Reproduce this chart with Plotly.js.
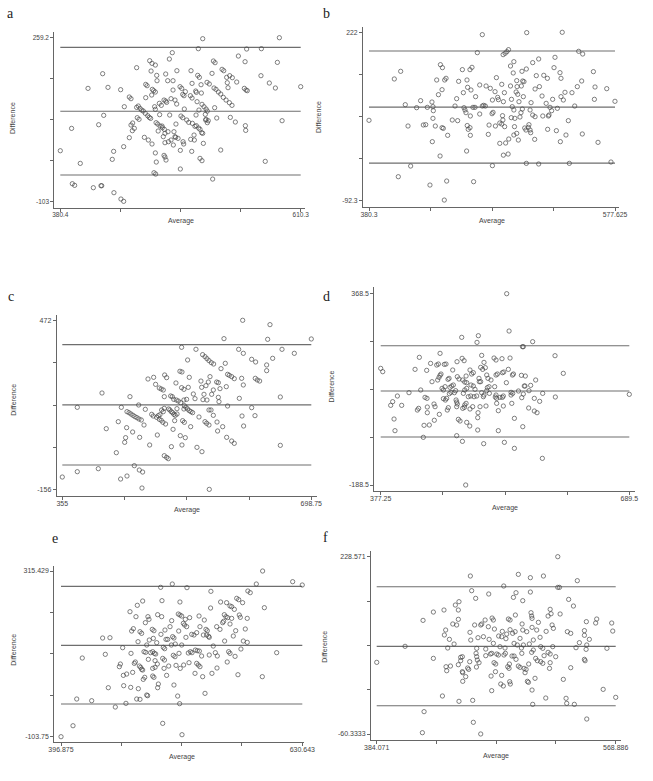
<!DOCTYPE html>
<html>
<head>
<meta charset="utf-8">
<script src="https://cdn.plot.ly/plotly-3.0.1.min.js"></script>
<style>html,body{margin:0;padding:0;background:#fff;}#chart{width:653px;height:781px;}</style>
</head>
<body>
<div id="chart"></div>
<script>
// ---------------- DATA ----------------
const panelLetters = ["a", "b", "c", "d", "e", "f"];
const xAxisTitle = "Average";
const yAxisTitle = "Difference";

// axis extremes (min, max) and their labels
const xRangeA = [380.4, 610.3],   xLabelsA = ["380.4", "610.3"];
const yRangeA = [-103, 259.2],    yLabelsA = ["-103", "259.2"];
const xRangeB = [380.3, 577.625], xLabelsB = ["380.3", "577.625"];
const yRangeB = [-92.3, 222],     yLabelsB = ["-92.3", "222"];
const xRangeC = [355, 698.75],    xLabelsC = ["355", "698.75"];
const yRangeC = [-156, 472],      yLabelsC = ["-156", "472"];
const xRangeD = [377.25, 689.5],  xLabelsD = ["377.25", "689.5"];
const yRangeD = [-188.5, 368.5],  yLabelsD = ["-188.5", "368.5"];
const xRangeE = [396.875, 630.643], xLabelsE = ["396.875", "630.643"];
const yRangeE = [-103.75, 315.429], yLabelsE = ["-103.75", "315.429"];
const xRangeF = [384.071, 568.886], xLabelsF = ["384.071", "568.886"];
const yRangeF = [-60.3333, 228.571], yLabelsF = ["-60.3333", "228.571"];

// lower limit, mean difference, upper limit
const limitsA = [-44.1, 96.6, 237.8];
const limitsB = [-22.1, 82.4, 187.1];
const limitsC = [-64.5, 158.3, 381.8];
const limitsD = [-48.8, 85.2, 217.1];
const limitsE = [-21.1, 127.4, 276.6];
const limitsF = [-14.2, 82.5, 179.7];

// (average, difference) pairs
const pointsA = [[380.4,9.6],[391.2,58.9],[391.9,-63.3],[394.1,-66.9],[399.5,-18.4],[406.9,147.3],[412,-72.1],[419.3,-67.7],[420,-67.7],[417.1,67],[420.9,179.7],[421.9,87.7],[426,149.5],[430.1,-9.5],[431.4,8.2],[431.7,-83.1],[438.1,144.4],[438.4,-97.1],[441,-102.2],[441,18.5],[441.6,106.8],[446.4,38.4],[446.4,128.2],[448,124.5],[448,66.3],[449.6,70.8],[451.2,59],[449.3,53.8],[453.4,193],[453.4,105.3],[455,108.3],[456.6,103.1],[458.2,99.4],[459.8,97.2],[454,82.5],[455.7,78.9],[460.8,39.1],[462.1,126.7],[462.1,156.1],[463.4,153.2],[461.7,92.1],[464,86.9],[465.5,83.2],[466.8,81],[464.6,33.2],[468.1,24.4],[465.9,208.4],[468.1,202.5],[471.3,198.8],[467.2,185.6],[468.4,145.1],[469.7,142.2],[471.3,139.2],[467.8,132.6],[470,-39],[471.6,-41.9],[470.6,106.8],[471.3,101],[472.2,-15.4],[472.6,176],[472.9,164.2],[472,71.5],[473.5,68.5],[475.8,64.1],[478,60.4],[479.9,56.8],[474,53.1],[475.1,114.2],[477,109.8],[475.4,89.2],[479.6,121.5],[481.2,119.3],[482.1,116.4],[481.2,179],[479.6,-0.7],[480.5,-4.4],[481.5,-11],[478.9,40.6],[480.5,48],[480.5,27.3],[483.1,164.2],[484.7,212.1],[483.4,51.6],[483.8,29.5],[486.3,33.2],[485,88.4],[486.3,124.5],[487.5,226.1],[488.2,164.2],[489.1,51.6],[490.1,40.6],[490.7,39.1],[488.2,143.6],[490.1,121.5],[491.7,112.7],[491,68.5],[491.9,186.3],[494.9,151],[496.5,147.3],[497.5,134],[495.2,10.4],[495.2,-30.8],[495.8,86.2],[497.5,82.5],[497.8,29.5],[498.4,24.4],[499,101.7],[498.7,131.1],[500,140],[501.3,77.4],[503.2,72.2],[504.8,131.1],[506.4,126],[505.4,186.3],[506.1,8.2],[506.4,158.3],[506.7,70.1],[508.3,44.2],[508.6,33.2],[509.2,63.4],[509.9,141.4],[510.5,138.5],[510.2,88.4],[511.2,117.9],[511.8,176],[513.4,171.6],[512.4,234.9],[513,99.4],[512.7,59.7],[514,56.8],[515.6,49.4],[516.6,48],[514,-7.3],[515.9,-12.4],[515,155.4],[515.3,137],[515.9,112],[517.8,106.8],[519.8,101.7],[521,97.2],[516.6,257],[517.2,25.8],[519.1,89.9],[519.4,77.4],[521.9,75.9],[521,71.5],[520.7,160.6],[522.9,157],[525.5,180.4],[526.1,-53],[526.8,207.7],[528.4,204],[527.4,148.1],[529.3,145.1],[531.6,139.2],[533.8,134.8],[536.3,127.4],[538.9,121.5],[542.1,115.6],[544.6,109.8],[528,104.6],[530,81.8],[533.8,11.1],[535.1,189.3],[536.7,186.3],[539.5,171.6],[540.1,159.8],[540.8,148.8],[542.4,175.3],[544.9,170.9],[543,83.2],[547.8,73],[549.1,161.3],[550.7,218.7],[556.4,147.3],[558,143.6],[559.2,142.2],[557.1,206.2],[557.4,64.9],[557.7,54.5],[558.6,234.2],[572.7,234.9],[572.3,175.3],[576.4,-13.9],[580.3,159.1],[586.1,148.1],[588,204.7],[589.9,259.2],[592.5,75.9],[610.3,151],[471.3,4.7],[477.7,64.1],[488.5,22.2],[493,36.9],[505.1,34.7],[510.5,64.9],[519.8,78.9]];

const pointsB = [[380.3,57.7],[400.6,134.9],[405.7,149.2],[403.8,-47.5],[409.4,86.9],[411.6,47.1],[413.7,-27.6],[418.5,81.3],[421.7,94.4],[423.9,49],[425.8,49.6],[427.1,81.9],[429.2,-63.1],[430.8,91.9],[431.6,83.2],[431.9,75.7],[431.6,61.4],[431.1,17.9],[433.5,47.1],[434.6,133],[436,105.6],[437.3,-8.9],[437.6,161.6],[439.2,156],[438.9,114.9],[438.9,44],[439.9,42.7],[441,133],[442.1,136.1],[440.7,-91.1],[442.6,-55.6],[443.4,29.7],[447.1,58.3],[449.3,84.4],[450.6,98.1],[451.4,57.1],[452.2,130.5],[455.2,152.3],[456,109.3],[456.5,81.3],[457.3,77],[458.1,72],[458.6,0.4],[458.9,133],[459.4,119.3],[459.1,48],[459.9,40.9],[461.3,44],[461.3,152.3],[462.9,156.6],[462.1,114.3],[461.6,65.8],[461.6,29.7],[463.7,81.9],[465.3,81.9],[464.2,-56.8],[465.8,101.9],[467.2,184],[469.1,123.7],[469.1,69.5],[471.2,217.6],[471.2,84.4],[472.3,85.7],[473.6,84.4],[474.2,121.8],[476,31.5],[476.6,48.9],[477.6,117.4],[479,70.1],[479.8,72.6],[479.3,-26.9],[479.3,95.6],[481.4,111.2],[481.7,47.1],[482.5,137.4],[483.5,100.6],[484.1,96.3],[485.2,14.7],[485.2,52.7],[486.8,50.8],[486.8,124.9],[487.4,66.4],[487.7,58.3],[487.9,180.3],[489.5,182.8],[490.9,185.9],[492.2,189.6],[488.1,92.5],[488.1,-7.3],[488.9,109.3],[489.9,15.4],[489.1,45.9],[491.9,-5.2],[492.4,22.8],[493.8,121.8],[493.8,159.1],[494.4,62.7],[494.6,96.9],[496,146.1],[496.5,167.2],[495.2,83.2],[496.5,77],[496.5,30.3],[497,45.9],[497.3,61.4],[498.3,110.6],[498.8,131.8],[498.8,33.4],[499.1,120.6],[499.6,106.2],[500.1,20.9],[500.6,92.5],[501.4,63.9],[502.2,72],[502.5,121.8],[503,149.2],[503.6,131.1],[504.1,101.9],[504.6,129.9],[503.3,78.8],[505.2,43.4],[506.2,39.6],[508.1,44.6],[506.8,221.4],[506.5,153.5],[506.5,-22.6],[508.6,49.6],[509.5,39.6],[510,34.6],[509.5,77],[510.3,90.7],[511.6,165.4],[511.6,67.6],[513.5,64.5],[513.5,116.2],[513.2,22.2],[514.5,141.1],[516.4,172.2],[516.4,-23.8],[517,120.6],[519.1,103.1],[519.7,65.8],[520.5,141.7],[522.4,89.4],[523.4,136.1],[523.6,40.9],[524.2,65.8],[524.7,67.6],[525.5,81.9],[526.8,75.7],[527.6,96.9],[528.7,156],[529.5,175.3],[530.6,38.4],[531.4,80.1],[533.5,146.7],[534.3,136.1],[534.3,101.9],[533.8,17.9],[535.3,222],[537.5,110],[536.2,95.6],[538.3,30.3],[540.2,57.1],[541,-22.6],[543.1,109.3],[545.3,84.4],[547.4,120.6],[548.5,186.5],[551.7,181.5],[550.9,131.1],[551.4,32.2],[560.3,148.6],[561.6,119.9],[561.1,96.9],[564,16.6],[571,116.8],[574.4,-20.1],[577.6,93.2]];

const pointsC = [[355,-109],[375.7,149.4],[375.7,-89.2],[404.7,-78.1],[409.8,202.5],[415.7,70.2],[429.6,-18.8],[432.3,96.2],[435.5,-116.4],[444.3,-105.3],[436.5,149.4],[441.1,19.6],[442.4,36.9],[443.8,74],[444.3,133.3],[447.1,129.6],[449.8,124.6],[452.6,119.7],[455.3,114.8],[458.1,111],[460.9,106.1],[464.1,102.4],[467.8,83.8],[448.4,188.9],[452.1,57.9],[454.4,-67],[461.3,-83],[465.9,-90.5],[460.4,158],[461.8,38.1],[465,-149.8],[469.6,142],[473.3,254.4],[475.6,9.7],[478.4,123.4],[480.6,117.2],[481.1,260.6],[483.8,234.6],[485.2,112.3],[487.5,118.5],[488.9,104.9],[486.2,46.8],[488.9,221],[491.6,217.3],[494.4,213.6],[489.8,122.2],[492.1,139.5],[494.4,133.3],[495.8,145.6],[491.6,101.1],[493.9,93.7],[497.6,87.5],[495.8,188.9],[496.3,269.3],[499,259.4],[495.8,-29.9],[499,-36.1],[501.3,-41],[501.8,143.2],[503.6,139.5],[505.4,133.3],[507.3,129.6],[509.1,123.4],[510.9,119.7],[504.6,191.4],[506.9,188.9],[508.8,179],[505.6,3.5],[507.9,67.8],[510.1,99.9],[513.4,124.6],[511.9,239.6],[512.4,176.5],[515.2,172.8],[518.4,166.7],[513.3,144.4],[517.4,283],[520.2,280.4],[517.9,44.3],[520.2,9.7],[519.7,371.9],[519.7,222.3],[522.9,216.1],[521.1,99.9],[523.5,93.7],[522.9,143.2],[522.9,176.5],[523.5,155.5],[525.7,149.4],[528,143.2],[530.3,137],[532.6,133.3],[534.9,129.6],[524.8,36.9],[526.6,179],[528,324.9],[528.9,223.5],[530.3,260.6],[532.2,77.6],[535.9,198.8],[538.2,181.5],[539.5,364.4],[540.9,1],[543.7,113.6],[546.4,246.7],[547.4,223.5],[547.8,-15],[548.7,344.7],[552,337.3],[554.7,329.8],[557.5,322.6],[560.7,315],[563.9,310],[549.2,177.8],[550.6,197.6],[552,96.2],[554.3,90],[557.5,83.8],[553.3,229.7],[556.6,243.2],[558.9,263.1],[554.7,176.5],[557.9,-154.8],[557.5,139.5],[560.3,139.5],[561.2,197.6],[563.5,213.6],[563.5,119.7],[568.1,243.2],[570.4,240.8],[568.6,94.9],[569.4,61.6],[570.4,186.4],[571.3,170.4],[572.7,218.6],[574.1,292.8],[576.4,77.6],[578.2,404],[580,312.5],[581.4,226],[583.2,271.7],[585.5,268],[588.8,263.1],[592.4,255.7],[583.2,154.3],[581.9,38.1],[588.8,24.5],[592.4,15.8],[598.5,364.4],[604.9,349.6],[599.4,182.7],[603.1,117.2],[602.6,256.9],[604,472],[604.9,232.2],[605.3,80.1],[616.4,327.4],[621.9,317.5],[616.4,148.1],[621,118.5],[621.4,256.9],[624.2,250.7],[627.4,246.9],[637.1,306.4],[637.1,285.3],[638.5,401.5],[641.7,455.9],[645.4,331.1],[656,187.7],[656,8.4],[658.3,364.4],[675.3,349.6],[698.75,402.8]];

const pointsD = [[377.25,151.1],[379.8,141.4],[389.8,43.4],[392.3,54.1],[394,3.6],[395.2,-30.3],[398.2,70.6],[403.6,43.4],[412.8,80.3],[420.4,148.2],[423.3,29.8],[424.9,34.7],[425.8,183.2],[427.5,88.1],[430.8,-49.7],[431.7,-14.8],[432.9,66.7],[435.4,63.8],[435,145.3],[435.8,22],[435.8,38.6],[438.3,-13.8],[439.9,165.6],[441.7,112.3],[444.2,47.3],[445.5,39.5],[444.6,0],[447.6,160.8],[449.7,163.7],[448.8,117.2],[450.5,124.9],[450.9,17.2],[451.8,194.8],[451.8,130.8],[453,134.6],[454.3,92.9],[456,88.1],[458.1,97.8],[456,62.8],[458.5,58.9],[460.1,63.8],[457.2,162.7],[459.3,163.7],[460.9,29.8],[462.2,36.7],[461.8,119.1],[463.5,77.4],[465.6,81.3],[463.1,122],[464.3,95.8],[466.4,99.7],[468.5,102.6],[467.7,146.3],[469.8,80.3],[471.4,86.1],[471.9,59],[472.7,53.1],[473.5,47.3],[472.7,39.5],[473.1,170.5],[472.7,-44.9],[473.5,126.9],[475.6,120.1],[474.8,2.7],[476.9,-2.2],[479,241.4],[479.5,180.3],[482,173.5],[479.9,-61.4],[480.3,34.7],[482.4,37.6],[482.8,44.4],[484.5,49.2],[480.3,117.2],[482.8,111.3],[485.3,109.4],[481.1,78.3],[482.8,88.1],[485.3,92.9],[484.5,128.8],[485.3,-6.1],[489.1,-16.7],[487.3,68.6],[490.3,70.6],[489.4,146.3],[491.5,134.6],[493.6,138.5],[489.4,32.8],[490.7,102.6],[493.6,99.7],[495.7,90],[492.8,39.5],[494.5,68.6],[497.8,70.6],[498.2,226.8],[499.1,-28.4],[499.5,22],[499.1,7.5],[499.9,246.2],[500.7,122],[501.1,112.3],[502.8,112.3],[502,39.5],[502.8,154],[505.3,148.2],[504.1,188.9],[504.1,80.3],[506.2,68.6],[507,73.5],[507,168.5],[506.6,-68.2],[508.7,153.1],[509.5,41.5],[510.4,131.7],[512,122],[511.2,94.9],[513.3,97.8],[510.4,86.1],[513.7,78.3],[515.8,117.2],[519.6,181.2],[522.1,175.4],[520.4,97.8],[521.2,67.6],[522.9,63.8],[522.1,73.5],[522.1,131.7],[523.8,134.6],[522.9,49.2],[525,-30.3],[525,27.9],[527.1,66.7],[530.1,66.7],[531.3,70.6],[529.6,179.3],[530.1,138.5],[531.8,140.5],[531.3,41.5],[532.6,-64.3],[535.1,109.4],[535.5,368.5],[537.6,148.2],[538.5,259.8],[539.7,181.2],[541,73.5],[543.1,78.3],[541,81.3],[541.9,49.2],[542.7,131.7],[544,134.6],[545.2,5.6],[545.2,-81.8],[550.3,85.2],[554,130.8],[554.4,65.8],[555.3,214.2],[556.4,214.2],[555.7,-18.7],[557.6,99.7],[558.5,99.7],[558.9,128.8],[556.4,76.4],[563.5,86.1],[563.1,35.7],[565.6,101.6],[568.1,228.8],[570.2,63.8],[570.2,26.9],[573.6,22],[571.9,117.2],[576.9,55.1],[580.7,78.3],[580.3,-110.9],[596.2,188],[596.6,67.7],[606.6,136.6],[689.5,75.4],[484,-188.5]];

const pointsE = [[396.9,-103.75],[408.5,-76],[412.1,-8.4],[417.5,95.3],[426.6,-12.7],[437.2,145.9],[444.3,146.7],[439.8,104.6],[442.7,20.2],[449.5,-28.7],[453.4,73.4],[454.4,80.1],[456.6,121.4],[457.6,25.3],[457.3,51.4],[460.5,54.8],[459.8,-19.4],[463.7,212.5],[464.4,21],[465.3,163.6],[467,169.5],[464.7,107.1],[466.3,59],[467.9,81.8],[468.9,85.2],[469.5,199.9],[470.2,-8.4],[473.4,-9.3],[470.8,228.6],[471.5,136.6],[471.8,17.7],[472.8,75],[474.1,71.7],[475,66.6],[476,64.9],[473.4,161.9],[475,157.7],[476,239.5],[476.6,41.3],[478,46.4],[477.3,111.3],[478.9,109.6],[478.6,184.7],[479.9,1.7],[480.8,0],[481.1,199.9],[482.1,193.1],[479.9,128.2],[481.5,91.9],[482.4,140.8],[483.7,108.8],[485.3,167.8],[486.9,164.4],[485.7,111.3],[487.3,107.1],[488.6,105.4],[485.7,69.1],[488,71.7],[485.7,49.7],[486.9,46.4],[486.3,145],[488,88.6],[489.6,134.1],[490.2,80.1],[490.5,204.9],[490.5,20.2],[491.2,29.5],[493.4,274.1],[493.7,155.2],[494.7,240.4],[494.4,199.9],[495.4,94.4],[497.1,90.2],[495.4,-70],[496,122.3],[497.3,118.9],[496.7,69.1],[497.6,166.1],[498.6,142.5],[500.2,142.5],[499.2,51.4],[501.2,75],[502.5,174.6],[504.1,189.8],[503.8,128.2],[504.7,282.5],[505,149.3],[506.3,145.9],[505.7,102.1],[507.3,98.7],[506.3,27],[507.6,130.7],[508.3,76.7],[509.9,-0.9],[510.5,206.6],[512.1,204.1],[513.8,201.5],[510.9,163.6],[511.2,107.1],[511.8,-20.2],[512.1,237],[512.4,69.1],[513.8,128.2],[514.1,-98.7],[515.4,183],[515.7,77.6],[516.6,178.8],[518.6,174.6],[517.3,193.1],[517.9,147.6],[518.9,273.3],[520.2,108],[522.2,111.3],[523.8,108.8],[521.5,197.4],[520.9,83.5],[523.5,155.2],[525.7,153.5],[528.3,159.4],[526.7,56.5],[527,115.5],[528.3,81.8],[529.9,77.6],[531.5,73.4],[528.9,113.8],[530.9,112.9],[530.6,201.6],[531.5,174.6],[533.1,100.4],[534.1,48.1],[534.8,153.5],[535.7,191.4],[537.3,167.8],[538.6,164.4],[540.5,147.6],[536.4,5.9],[538,153.5],[539.9,150.2],[540.5,102.9],[541.8,221.8],[542.1,264],[543.1,56.5],[544.4,125.6],[546.4,108.8],[548.3,100.4],[547.7,174.6],[548,70],[550.9,167.8],[551.5,237],[553.5,184.7],[554.4,188.1],[555.4,138.3],[555.1,204.9],[556.7,199.9],[558.3,197.4],[557.3,235.3],[557.9,85.2],[559.3,111.3],[560.6,107.1],[560.6,227],[562.2,225.2],[560.6,181.3],[562.2,195.6],[563.8,151],[564.8,218.4],[565.5,99.5],[566.1,164.4],[567.1,246.3],[569,242.9],[568.3,53.1],[569.6,204.1],[570.6,198.2],[571.2,118.1],[572.8,235.3],[573.5,138.3],[577.3,134.9],[575.4,168.7],[577.3,195.6],[577.9,264.8],[580.2,260.6],[586.1,282.5],[591.9,48.1],[592.2,315.4],[593.9,222.6],[605.8,108.8],[621.3,288.4],[630.6,280]];

const pointsF = [[384.1,56.4],[406,82.5],[419.9,124.8],[420.7,-23.9],[419.4,-58.2],[427.9,62.9],[427.9,138.4],[434.9,1.6],[436.1,141.7],[436.4,101],[437.4,109.1],[437.7,49.3],[438.2,42.8],[439,79.8],[440.3,93.9],[441.1,50.4],[442.9,118.9],[443.9,86.3],[444.9,149.8],[447.2,141.7],[447.7,155.3],[445.9,117.3],[447.2,126.5],[447.2,52.6],[449,64.6],[447.7,-7.1],[449,59.1],[450.3,41.2],[450.6,39.6],[450.6,25.5],[450.3,65.6],[452.9,33.1],[454.4,47.2],[455.2,45],[456,57.5],[456.2,105.3],[456.5,197.1],[456.8,92.8],[457.5,173.2],[458.3,-5.5],[458.8,-41.3],[459.8,117.3],[461.4,79.3],[460.6,160.7],[460.9,71.1],[461.4,65.6],[461.9,60.2],[461.2,48.8],[462.4,96.6],[463.2,55.9],[464.5,117.3],[465.3,118.9],[464.5,-60.3],[466.6,98.2],[467.9,125.4],[470.4,114.5],[468.4,78.1],[468.4,67.3],[470.7,167.8],[471,93.9],[472,70],[473,71.1],[472.5,34.1],[473,10.3],[473.3,128.6],[474.3,125.4],[474.3,87.4],[474.8,55.9],[476.1,53.7],[475.1,110.7],[475.9,41.2],[476.9,70],[478.2,68.4],[478.4,99.3],[479.4,81.9],[480,21.1],[482,17.9],[480.7,98.2],[480.7,35.2],[481.2,106.9],[482.3,180.8],[482.5,68.4],[483.6,71.1],[483.3,79.8],[484,95],[484.6,102.5],[485.4,49.3],[486.4,46.6],[486.7,53.7],[485.9,127],[487.2,125.4],[487.2,109.6],[486.9,24.9],[487.4,21.1],[488.7,66.7],[490.3,66.7],[489.2,103.7],[491.1,106.4],[489.8,162.3],[490.3,87.4],[491.8,169.9],[491.3,133.5],[491.8,61.3],[492.8,84.7],[493.6,199.8],[493.6,50.4],[494.9,48.3],[494.9,95.5],[496,79.8],[497.5,84.7],[496.3,71.1],[496.5,118.9],[497,109.1],[497,156.9],[498,46.6],[499.6,45],[498.8,39.6],[500.1,106.4],[500.6,25.5],[501.4,23.9],[501.6,53.7],[502.1,86.3],[502.9,171],[502.9,194.4],[503.4,137.3],[503.9,131.9],[504.2,128.1],[504.2,113.4],[503.9,72.7],[505.2,76.5],[504.2,11.3],[504.7,-12],[505.2,92.8],[506.5,30.4],[507,62.9],[508.3,59.1],[507.8,109.1],[509.1,121.6],[510.4,97.2],[510.9,82],[512.5,79.3],[510.9,57.5],[512.5,54.8],[513,197.1],[513.5,67.3],[514.8,-1.7],[515.1,106.9],[516.6,131.9],[518.2,142.8],[516.6,72.7],[518.2,70],[518.2,55.9],[517.7,46.6],[518.9,135.6],[519.7,117.3],[520.7,111.8],[520.2,82],[522.5,65.6],[524.1,228.6],[524.1,178.6],[525.4,178.6],[525.9,135.2],[528.4,28.7],[530.5,-2.2],[531,-10.4],[531.5,106.4],[534.1,103.7],[532.5,159],[534.1,47.7],[536.2,148.2],[536.9,-12],[538.2,80.3],[539.2,189.5],[540.8,88.5],[544.7,108.1],[544.7,100.5],[544.7,61.3],[545.2,59.1],[546,77.6],[546.5,84.7],[546.2,122.7],[546.5,-35.9],[548.5,93.9],[553.4,120.5],[554.2,127],[559.2,12.4],[562.1,79.3],[565.8,120.5],[566.6,107.4],[568.9,-0.6]];

// ---------------- LAYOUT (pixel geometry of each panel) ----------------
const W = 653, H = 781;
const panels = [
  {pts: pointsA, lim: limitsA, xr: xRangeA, yr: yRangeA, xl: xLabelsA, yl: yLabelsA,
   g: {L: 54.3, R: 305, T: 32.3, B: 207.5, qx0: 60.3, qx1: 300.7, qyT: 37.7, qyB: 201.7,
       letter: [10.7, 14], dt: [12.7, 118.3], at: [180.5, 220.7], fs: 6.5}},
  {pts: pointsB, lim: limitsB, xr: xRangeB, yr: yRangeB, xl: xLabelsB, yl: yLabelsB,
   g: {L: 363, R: 619, T: 26.5, B: 206.7, qx0: 369, qx1: 615, qyT: 32.3, qyB: 200.7,
       letter: [326, 13], dt: [318.3, 116.7], at: [491.7, 220.7], fs: 6.8}},
  {pts: pointsC, lim: limitsC, xr: xRangeC, yr: yRangeC, xl: xLabelsC, yl: yLabelsC,
   g: {L: 56.7, R: 316.7, T: 315, B: 495.7, qx0: 62.3, qx1: 311.3, qyT: 320.3, qyB: 489.7,
       letter: [10.7, 296], dt: [12.7, 400], at: [187, 510], fs: 7}},
  {pts: pointsD, lim: limitsD, xr: xRangeD, yr: yRangeD, xl: xLabelsD, yl: yLabelsD,
   g: {L: 374.3, R: 635, T: 287.3, B: 490.7, qx0: 380.7, qx1: 629.3, qyT: 293.7, qyB: 485,
       letter: [326, 296], dt: [331.7, 386.7], at: [505, 508.3], fs: 7}},
  {pts: pointsE, lim: limitsE, xr: xRangeE, yr: yRangeE, xl: xLabelsE, yl: yLabelsE,
   g: {L: 54.3, R: 304, T: 565.7, B: 742, qx0: 61, qx1: 302.3, qyT: 571, qyB: 736.7,
       letter: [55, 538], dt: [12.7, 650], at: [181.7, 756.7], fs: 7}},
  {pts: pointsF, lim: limitsF, xr: xRangeF, yr: yRangeF, xl: xLabelsF, yl: yLabelsF,
   g: {L: 371, R: 620.7, T: 550.7, B: 740, qx0: 376.7, qx1: 615.7, qyT: 556.7, qyB: 734,
       letter: [325, 537], dt: [325, 646.7], at: [495.7, 756], fs: 7}}
];

const axisColor = "#666";
const textColor = "#444";
const fontFam = "Liberation Sans, Arial, sans-serif";

const traces = [];
const layout = {
  width: W, height: H, margin: {l: 0, r: 0, t: 0, b: 0},
  paper_bgcolor: "#fff", plot_bgcolor: "rgba(0,0,0,0)",
  showlegend: false, annotations: []
};

function quarterTicks(r) {
  const out = [];
  for (let k = 0; k <= 4; k++) out.push(r[0] + (r[1] - r[0]) * k / 4);
  return out;
}

panels.forEach((p, i) => {
  const n = i + 1;
  const xa = n === 1 ? "x" : "x" + n;
  const ya = n === 1 ? "y" : "y" + n;
  const g = p.g;
  const sx = (p.xr[1] - p.xr[0]) / (g.qx1 - g.qx0);
  const xRange = [p.xr[0] + (g.L - g.qx0) * sx, p.xr[0] + (g.R - g.qx0) * sx];
  const sy = (p.yr[1] - p.yr[0]) / (g.qyB - g.qyT);
  const yRange = [p.yr[0] - (g.B - g.qyB) * sy, p.yr[1] + (g.qyT - g.T) * sy];

  const common = {
    showline: true, linecolor: axisColor, linewidth: 1,
    ticks: "outside", ticklen: 3, tickwidth: 1, tickcolor: axisColor,
    showgrid: false, zeroline: false, fixedrange: true,
    tickfont: {family: fontFam, size: g.fs, color: textColor}
  };
  const xt = quarterTicks(p.xr), yt = quarterTicks(p.yr);
  layout["xaxis" + (n === 1 ? "" : n)] = Object.assign({}, common, {
    domain: [g.L / W, g.R / W], range: xRange, anchor: ya,
    tickmode: "array", tickvals: xt, ticktext: [p.xl[0], "", "", "", p.xl[1]],
    ticklabelstandoff: -2
  });
  layout["yaxis" + (n === 1 ? "" : n)] = Object.assign({}, common, {
    domain: [1 - g.B / H, 1 - g.T / H], range: yRange, anchor: xa,
    tickmode: "array", tickvals: yt, ticktext: [p.yl[0], "", "", "", p.yl[1]]
  });

  // limit-of-agreement lines across the data range
  p.lim.forEach(v => {
    traces.push({
      type: "scatter", mode: "lines", xaxis: xa, yaxis: ya,
      x: [p.xr[0], p.xr[1]], y: [v, v],
      line: {color: "#6e6e6e", width: 1.1}, hoverinfo: "skip"
    });
  });
  // points
  traces.push({
    type: "scatter", mode: "markers", xaxis: xa, yaxis: ya,
    x: p.pts.map(d => d[0]), y: p.pts.map(d => d[1]),
    marker: {symbol: "circle-open", size: 4.3, color: "rgba(70,70,70,0.85)", line: {width: 0.8}},
    cliponaxis: false, hoverinfo: "skip"
  });

  layout.annotations.push({
    text: panelLetters[i], xref: "paper", yref: "paper",
    x: g.letter[0] / W, y: 1 - g.letter[1] / H, xanchor: "center", yanchor: "middle",
    showarrow: false, font: {family: "Liberation Serif, Times New Roman, serif", size: 14, color: "#222"}
  });
  layout.annotations.push({
    text: yAxisTitle, xref: "paper", yref: "paper", textangle: -90,
    x: g.dt[0] / W, y: 1 - g.dt[1] / H, xanchor: "center", yanchor: "middle",
    showarrow: false, font: {family: fontFam, size: 7, color: textColor}
  });
  layout.annotations.push({
    text: xAxisTitle, xref: "paper", yref: "paper",
    x: g.at[0] / W, y: 1 - g.at[1] / H, xanchor: "center", yanchor: "middle",
    showarrow: false, font: {family: fontFam, size: 7, color: textColor}
  });
});

Plotly.newPlot("chart", traces, layout, {displayModeBar: false, staticPlot: true});
</script>
</body>
</html>
